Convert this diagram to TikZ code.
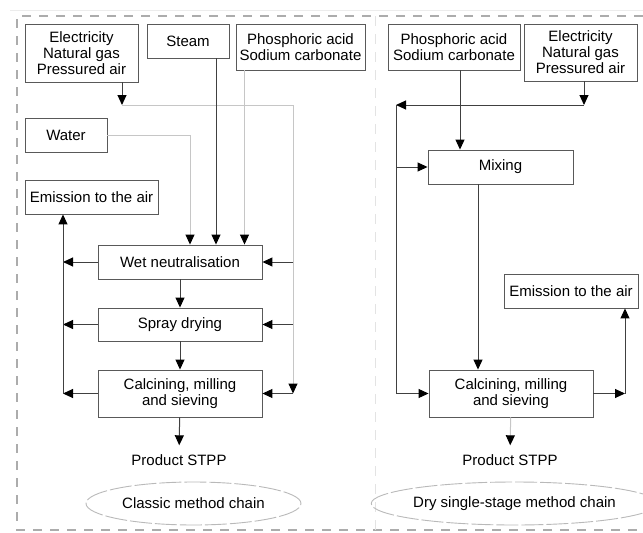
\documentclass[tikz,border=0pt]{standalone}
\usepackage{fontspec}
\setmainfont{Liberation Sans}
\usetikzlibrary{arrows.meta,shapes.geometric}
\tikzset{
  box/.style={draw=gray!70!black, line width=0.9pt, fill=white, align=center,
    inner sep=0pt, font=\fontsize{15}{16}\selectfont},
  plain/.style={inner sep=9pt, font=\fontsize{15}{16}\selectfont},
  chain/.style={ellipse, draw=gray!55, line width=0.9pt, dash pattern=on 22pt off 3pt,
    minimum width=215pt, minimum height=43pt, inner sep=0pt, font=\fontsize{15}{16}\selectfont},
  dk/.style={draw=black!75, line width=1pt},
  lt/.style={draw=gray!45, line width=1pt},
  >={Triangle[length=10pt,width=9pt,color=black]}
}
\begin{document}
\begin{tikzpicture}[x=1pt,y=-1pt]
\useasboundingbox (0,0) rectangle (643,533);
% frame
\draw[gray!15] (10,10) -- (643,10);
\draw[gray!65, line width=1.3pt, dash pattern=on 9pt off 8pt] (643,16) -- (17,16) -- (17,530) -- (643,530);
\draw[gray!22, line width=1pt, dash pattern=on 10pt off 8pt] (375,16) -- (375,530);

% classic method chain
\node[box, minimum width=113pt, minimum height=58pt] (elecL) at (81.5,53) {Electricity\\Natural gas\\Pressured air};
\node[box, minimum width=82pt, minimum height=34pt] (steam) at (188,41) {Steam};
\node[box, minimum width=129pt, minimum height=46pt] (phosL) at (300.5,47) {Phosphoric acid\\Sodium carbonate};
\node[box, minimum width=82pt, minimum height=34pt] (water) at (66,135) {Water};
\node[box, minimum width=133pt, minimum height=34pt] (emisL) at (91.5,197) {Emission to the air};
\node[box, minimum width=164pt, minimum height=34pt] (wet) at (180,262) {Wet neutralisation};
\node[box, minimum width=164pt, minimum height=33pt] (spray) at (180,324.5) {Spray drying};
\node[box, minimum width=164pt, minimum height=47pt] (calcL) at (180,393.5) {Calcining, milling\\and sieving};
\node[plain] (prodL) at (179,460) {Product STPP};
\node[chain] (chainL) at (193.5,503.5) {Classic method chain};

\coordinate (eL) at (122,105);
\coordinate (eR) at (293,105);
\coordinate (eWet) at (293,262);
\coordinate (eSpray) at (293,324.5);
\coordinate (eCalc) at (293,393.5);
\coordinate (wIn) at (190,135);
\coordinate (oWet) at (63,262);
\coordinate (oSpray) at (63,324.5);
\coordinate (oCalc) at (63,393.5);

\draw[dk,->] (elecL.south -| eL) -- (eL);
\draw[lt,->] (eL) -- (eR) -- (eCalc);
\draw[dk,->] (eWet) -- (wet);
\draw[dk,->] (eSpray) -- (spray);
\draw[dk,->] (eCalc) -- (calcL);
\draw[lt,->] (water) -- (wIn) -- (wIn |- wet.north);
\draw[dk,->] ([xshift=28pt]steam.south) -- ([xshift=28pt]steam.south |- wet.north);
\draw[lt,->] ([xshift=-56pt]phosL.south) -- ([xshift=-56pt]phosL.south |- wet.north);
\draw[dk,->] (wet) -- (oWet);
\draw[dk,->] (spray) -- (oSpray);
\draw[dk,->] (calcL) -- (oCalc);
\draw[dk,->] (oCalc) -- (oCalc |- emisL.south);
\draw[dk,->] (wet) -- (spray);
\draw[dk,->] (spray) -- (calcL);
\draw[dk,->] (calcL) -- (prodL);

% dry single-stage method chain
\node[box, minimum width=132pt, minimum height=46pt] (phosR) at (454,47) {Phosphoric acid\\Sodium carbonate};
\node[box, minimum width=113pt, minimum height=57pt] (elecR) at (580.5,52.5) {Electricity\\Natural gas\\Pressured air};
\node[box, minimum width=145pt, minimum height=34pt] (mix) at (500.5,167) {Mixing};
\node[box, minimum width=134pt, minimum height=34pt] (emisR) at (571,291) {Emission to the air};
\node[box, minimum width=164pt, minimum height=47pt] (calcR) at (511,393.5) {Calcining, milling\\and sieving};
\node[plain] (prodR) at (510,460) {Product STPP};
\node[chain] (chainR) at (514.5,503.5) {Dry single-stage method chain};

\coordinate (rE) at (584,105);
\coordinate (rW) at (396,105);
\coordinate (rMix) at (396,167);
\coordinate (rCalc) at (396,393.5);
\coordinate (rOut) at (625,393.5);

\draw[dk,->] (elecR.south -| rE) -- (rE);
\draw[dk,->] (rE) -- (rW);
\draw[dk] (rW) -- (rCalc);
\draw[dk,->] (rMix) -- (mix);
\draw[dk,->] (rCalc) -- (calcR);
\draw[dk,->] ([xshift=6pt]phosR.south) -- ([xshift=6pt]phosR.south |- mix.north);
\draw[dk,->] ([xshift=-22.5pt]mix.south) -- ([xshift=-22.5pt]mix.south |- calcR.north);
\draw[dk,->] (calcR) -- (rOut);
\draw[dk,->] (rOut) -- (rOut |- emisR.south);
\draw[lt,->] (calcR) -- (prodR);
\end{tikzpicture}
\end{document}
